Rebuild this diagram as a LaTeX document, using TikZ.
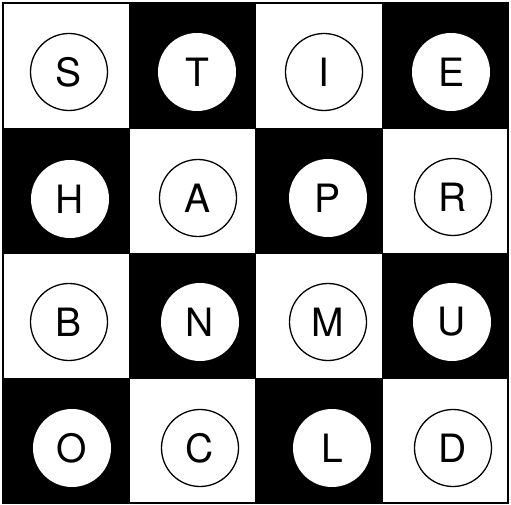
\documentclass[tikz,border=0pt]{standalone}
\usepackage{fontspec}
\setmainfont{TeX Gyre Heros}
\begin{document}
\begin{tikzpicture}[x=1pt,y=-1pt,
  darkcell/.style={fill=black,draw=black},
  lightcell/.style={fill=white,draw=black,line width=0.8pt},
  ringw/.style={circle,draw=black,line width=1.3pt,fill=white,minimum size=77pt,inner sep=0pt,font=\fontsize{39}{39}\selectfont},
  ringb/.style={circle,draw=none,fill=white,minimum size=78pt,inner sep=0pt,font=\fontsize{39}{39}\selectfont}]
\useasboundingbox (0,0) rectangle (511,505);
\fill[white] (0,0) rectangle (511,505);
% cells
\def\xa{3}\def\xb{129}\def\xc{255.5}\def\xd{382}\def\xe{508}
\def\ya{3}\def\yb{128}\def\yc{253}\def\yd{378}\def\ye{503}
% row 1
\draw[lightcell] (\xa,\ya) rectangle (\xb,\yb);
\draw[darkcell] (\xb,\ya) rectangle (\xc,\yb);
\draw[lightcell] (\xc,\ya) rectangle (\xd,\yb);
\draw[darkcell] (\xd,\ya) rectangle (\xe,\yb);
% row 2
\draw[darkcell] (\xa,\yb) rectangle (\xb,\yc);
\draw[lightcell] (\xb,\yb) rectangle (\xc,\yc);
\draw[darkcell] (\xc,\yb) rectangle (\xd,\yc);
\draw[lightcell] (\xd,\yb) rectangle (\xe,\yc);
% row 3
\draw[lightcell] (\xa,\yc) rectangle (\xb,\yd);
\draw[darkcell] (\xb,\yc) rectangle (\xc,\yd);
\draw[lightcell] (\xc,\yc) rectangle (\xd,\yd);
\draw[darkcell] (\xd,\yc) rectangle (\xe,\yd);
% row 4
\draw[darkcell] (\xa,\yd) rectangle (\xb,\ye);
\draw[lightcell] (\xb,\yd) rectangle (\xc,\ye);
\draw[darkcell] (\xc,\yd) rectangle (\xd,\ye);
\draw[lightcell] (\xd,\yd) rectangle (\xe,\ye);
\draw[line width=1.5pt] (\xa,\ya) rectangle (\xe,\ye);
% letters
\node[ringw] (s) at (69,72) {S};
\node[ringb] (t) at (197,72) {T};
\node[ringw] (i) at (324,72) {I};
\node[ringb] (e) at (451,72) {E};
\node[ringb] (h) at (70,199) {H};
\node[ringw] (a) at (198,198) {A};
\node[ringb] (p) at (328,198) {P};
\node[ringw] (r) at (453,197) {R};
\node[ringw] (b) at (69,322) {B};
\node[ringb] (n) at (200,322) {N};
\node[ringw] (m) at (328,322) {M};
\node[ringb] (u) at (452,322) {U};
\node[ringb] (o) at (72,448) {O};
\node[ringw] (c) at (200,448) {C};
\node[ringb] (l) at (332,448) {L};
\node[ringw] (d) at (453,448) {D};
\end{tikzpicture}
\end{document}
